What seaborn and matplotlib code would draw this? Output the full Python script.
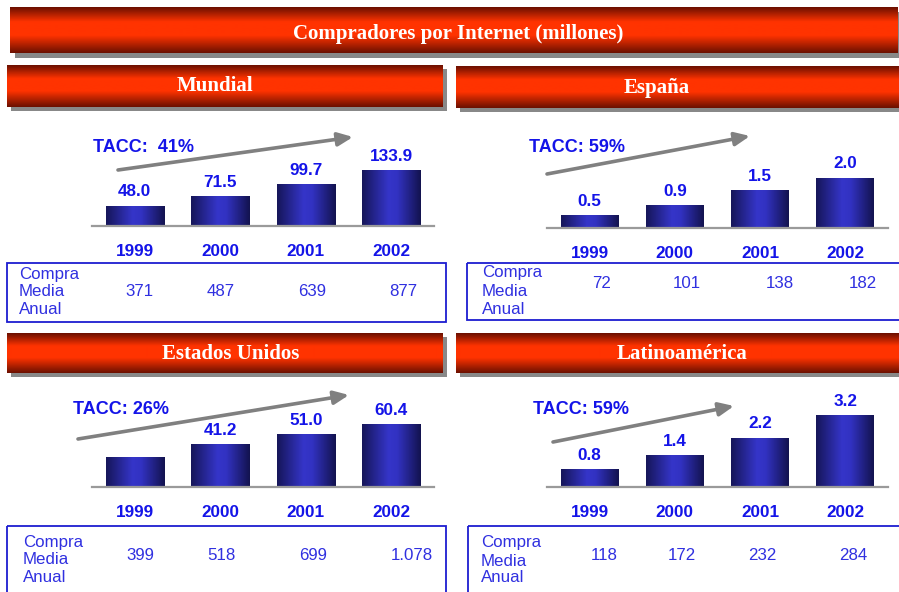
import numpy as np
import pandas as pd
import matplotlib
matplotlib.use('Agg')
import matplotlib.pyplot as plt
import seaborn as sns
from matplotlib.colors import LinearSegmentedColormap
from matplotlib.patches import Rectangle, FancyArrowPatch

# data (millones de compradores por Internet)
years = ['1999', '2000', '2001', '2002']

mundial = [48.0, 71.5, 99.7, 133.9]
espana = [0.5, 0.9, 1.5, 2.0]
eeuu = [29.2, 41.2, 51.0, 60.4]
latam = [0.8, 1.4, 2.2, 3.2]

# value labels above the bars (the 1999 US bar has none on the slide)
mundial_labels = ['48.0', '71.5', '99.7', '133.9']
espana_labels = ['0.5', '0.9', '1.5', '2.0']
eeuu_labels = ['', '41.2', '51.0', '60.4']
latam_labels = ['0.8', '1.4', '2.2', '3.2']

# compra media anual
compra_mundial = ['371', '487', '639', '877']
compra_espana = ['72', '101', '138', '182']
compra_eeuu = ['399', '518', '699', '1.078']
compra_latam = ['118', '172', '232', '284']

tacc_mundial = 'TACC:  41%'
tacc_espana = 'TACC: 59%'
tacc_eeuu = 'TACC: 26%'
tacc_latam = 'TACC: 59%'

W, H = 899, 592
BLUE = '#1414e8'
BLUE_LIGHT = '#3030e0'
SERIF = 'Liberation Serif'

sns.set_theme(style='white')
plt.rcParams['font.family'] = ['Liberation Sans', 'DejaVu Sans']

fig = plt.figure(figsize=(W / 100, H / 100), dpi=100)
fig.patch.set_facecolor('white')

# background axes in pixel coordinates (y goes down) for banners, boxes, arrows
bg = fig.add_axes([0, 0, 1, 1])
bg.axis('off')

banner_cmap = LinearSegmentedColormap.from_list(
    'banner', [(0, '#6c1000'), (0.32, '#ff3300'), (0.62, '#ff3300'), (1, '#6c1000')])
bar_cmap = LinearSegmentedColormap.from_list(
    'bar', [(0, '#16165a'), (0.45, '#3535c9'), (0.6, '#3232c2'), (1, '#131350')])
grad_v = np.linspace(0, 1, 80).reshape(-1, 1)
grad_h = np.linspace(0, 1, 80).reshape(1, -1)


def banner(x0, y0, x1, y1, title, tx, ty, shadow=4):
    bg.add_patch(Rectangle((x0 + shadow, y0 + shadow), x1 - x0, y1 - y0,
                           facecolor='#888888', lw=0, zorder=1))
    bg.imshow(grad_v, cmap=banner_cmap, extent=(x0, x1, y1, y0),
              aspect='auto', interpolation='bilinear', zorder=2)
    bg.text(tx, ty, title, color='white', fontsize=15, fontweight='bold',
            family=SERIF, ha='center', va='center', zorder=3)


def table(x0, y0, x1, y1, text_x, row_ys, vals, val_xs, val_y):
    bg.add_patch(Rectangle((x0, y0), x1 - x0, y1 - y0, facecolor='none',
                           edgecolor='#1c1cd0', lw=1.3, zorder=2))
    for word, yy in zip(['Compra', 'Media', 'Anual'], row_ys):
        bg.text(text_x, yy, word, color=BLUE_LIGHT, fontsize=12.2,
                ha='left', va='center', zorder=3)
    for v, xx in zip(vals, val_xs):
        bg.text(xx, val_y, v, color=BLUE_LIGHT, fontsize=12.2,
                ha='center', va='center', zorder=3)


def growth(text, tx, ty, start, end):
    bg.text(tx, ty, text, color=BLUE, fontsize=13, fontweight='bold',
            ha='left', va='center', zorder=3)
    bg.add_patch(FancyArrowPatch(start, end, arrowstyle='-|>,head_length=0.9,head_width=0.4',
                                 mutation_scale=10, color='#808080', lw=2.6,
                                 shrinkA=0, shrinkB=0, zorder=3))


def bars(values, labels, left, right, base, ymax):
    ax = fig.add_axes([left / W, 1 - base / H, (right - left) / W, 100 / H])
    ax.patch.set_alpha(0)
    df = pd.DataFrame({'year': years, 'value': values})
    sns.barplot(data=df, x='year', y='value', color='#2a2aa0', width=0.68,
                saturation=1, ax=ax)
    for patch, lab in zip(ax.patches, labels):
        x, w, h = patch.get_x(), patch.get_width(), patch.get_height()
        ax.imshow(grad_h, cmap=bar_cmap, extent=(x, x + w, 0, h),
                  aspect='auto', interpolation='bilinear', zorder=2)
        patch.set_facecolor('none')
        patch.set_edgecolor('none')
        if lab:
            ax.annotate(lab, (x + w / 2, h), xytext=(0, 7), textcoords='offset points',
                        ha='center', va='baseline', color=BLUE, fontsize=12.3,
                        fontweight='bold', annotation_clip=False)
    ax.set_xlim(-0.5, 3.5)
    ax.set_ylim(0, ymax)
    ax.set_yticks([])
    ax.set_xlabel('')
    ax.set_ylabel('')
    sns.despine(ax=ax, left=True)
    ax.spines['bottom'].set_color('#9a9a9a')
    ax.spines['bottom'].set_linewidth(1.6)
    ax.tick_params(axis='x', length=0, pad=13, labelsize=12.3, labelcolor=BLUE)
    for t in ax.get_xticklabels():
        t.set_fontweight('bold')
    return ax


# main title
banner(10, 7, 898, 53, 'Compradores por Internet (millones)', 458, 34, shadow=5)

# Mundial
banner(7, 65, 443, 107, 'Mundial', 215, 86)
growth(tacc_mundial, 93, 147, (118, 170), (353, 137))
bars(mundial, mundial_labels, 92, 434, 226, 241)
table(7, 263, 446, 322, 19, [274, 292, 310], compra_mundial, [139, 221, 312, 403], 292)

# España
banner(456, 66, 905, 108, 'España', 657, 88)
growth(tacc_espana, 529, 147, (547, 174), (750, 136))
bars(espana, espana_labels, 547, 888, 228, 4.0)
table(467, 263, 905, 320, 482, [273, 291, 309], compra_espana, [602, 687, 780, 863], 283)

# Estados Unidos
banner(7, 333, 443, 373, 'Estados Unidos', 231, 354)
growth(tacc_eeuu, 73, 410, (78, 439), (349, 395))
bars(eeuu, eeuu_labels, 92, 434, 487, 97.4)
table(7, 526, 446, 600, 23, [542, 559, 577], compra_eeuu, [140, 221, 313, 412], 556)

# Latinoamérica
banner(456, 333, 905, 373, 'Latinoamérica', 682, 354)
growth(tacc_latam, 533, 410, (553, 442), (734, 406))
bars(latam, latam_labels, 547, 888, 487, 4.5)
table(468, 526, 905, 600, 481, [543, 561, 578], compra_latam, [604, 682, 762, 853], 555)

bg.set_xlim(0, W)
bg.set_ylim(H, 0)

fig.savefig('out.png', dpi=100, facecolor='white')
